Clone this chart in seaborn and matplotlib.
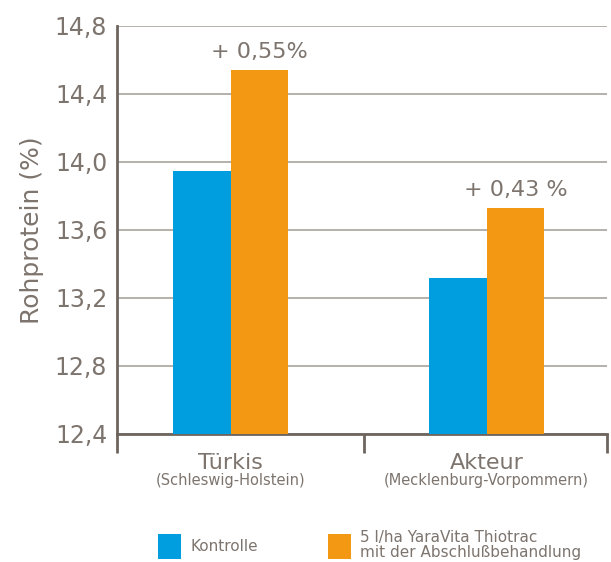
import matplotlib
matplotlib.use("Agg")
import matplotlib.pyplot as plt
import matplotlib.transforms as mtransforms
import seaborn as sns
import pandas as pd

# ---- data ----
varieties = ["Türkis", "Akteur"]
regions = ["(Schleswig-Holstein)", "(Mecklenburg-Vorpommern)"]
treatments = ["Kontrolle", "5 l/ha YaraVita Thiotrac\nmit der Abschlußbehandlung"]
kontrolle = [13.95, 13.32]
thiotrac = [14.54, 13.73]
annotations = ["+ 0,55%", "+ 0,43 %"]
yticks = [12.4, 12.8, 13.2, 13.6, 14.0, 14.4, 14.8]
ytick_labels = ["12,4", "12,8", "13,2", "13,6", "14,0", "14,4", "14,8"]

df = pd.DataFrame({
    "variety": varieties * 2,
    "treatment": [treatments[0]] * 2 + [treatments[1]] * 2,
    "value": kontrolle + thiotrac,
})

TEXT = "#7d746e"
GRID = "#aaa39d"
SPINE = "#6e655f"
BLUE = "#009ddf"
ORANGE = "#f39813"

sns.set_theme(style="white")
plt.rcParams["font.family"] = ["DejaVu Sans"]

fig = plt.figure(figsize=(6.11, 5.62), dpi=100)
ax = fig.add_axes([117 / 611, (562 - 434) / 562, (607 - 117) / 611, (434 - 26) / 562])

sns.barplot(data=df, x="variety", y="value", hue="treatment", order=varieties,
            hue_order=treatments, palette=[BLUE, ORANGE], width=0.45,
            saturation=1, linewidth=0, ax=ax, zorder=3)

ax.set_ylim(12.4, 14.8)
ax.set_xlim(-0.445, 1.47)
ax.set_yticks(yticks)
ax.set_yticklabels(ytick_labels, color=TEXT, fontsize=17)
ax.yaxis.grid(True, color=GRID, linewidth=1.2, zorder=0)
ax.set_axisbelow(True)
ax.set_xlabel("")
ax.set_ylabel("Rohprotein (%)", color=TEXT, fontsize=18, labelpad=8)

for s in ["top", "right"]:
    ax.spines[s].set_visible(False)
ax.spines["left"].set_color(SPINE)
ax.spines["left"].set_linewidth(2)
ax.spines["bottom"].set_color(SPINE)
ax.spines["bottom"].set_linewidth(2)
ax.tick_params(axis="y", length=0, pad=7)

# x ticks at group boundaries
ax.set_xticks([-0.445, 0.52, 1.47])
ax.set_xticklabels(["", "", ""])
ax.tick_params(axis="x", direction="out", length=14, width=2, color=SPINE, bottom=True)

# category labels
trans = mtransforms.blended_transform_factory(ax.transData, ax.transAxes)
for i, (v, r) in enumerate(zip(varieties, regions)):
    ax.text(i, -0.072, v, transform=trans, ha="center", va="center",
            fontsize=16, color=TEXT)
    ax.text(i, -0.113, r, transform=trans, ha="center", va="center",
            fontsize=10.5, color=TEXT)

# annotations above the Thiotrac bars
for i, (val, txt) in enumerate(zip(thiotrac, annotations)):
    ax.annotate(txt, xy=(i + 0.1125, val), xytext=(0, 6), textcoords="offset points",
                ha="center", va="bottom", fontsize=16, color=TEXT)

# legend
handles, labels = ax.get_legend_handles_labels()
ax.get_legend().remove()
leg = fig.legend(handles, labels, ncol=2, loc="upper left",
                 bbox_to_anchor=(152 / 611, 38 / 562), frameon=False,
                 fontsize=11, handlelength=1.5, handleheight=2.1,
                 handletextpad=0.6, columnspacing=4.6, borderaxespad=0,
                 labelspacing=0.2)
for t in leg.get_texts():
    t.set_color(TEXT)
    t.set_linespacing(1.0)

fig.savefig("out.png", dpi=100)
